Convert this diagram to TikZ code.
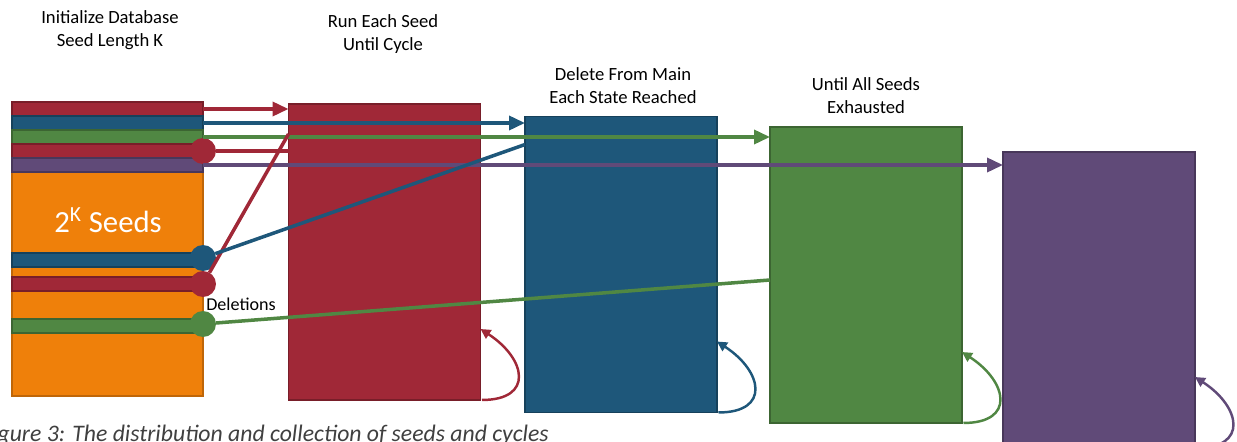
\documentclass[tikz,border=0pt]{standalone}
\usepackage{fontspec}
\setmainfont{Carlito}
\usepackage{color}
\usepackage{tikz}
\usetikzlibrary{arrows.meta}

\definecolor{cred}{RGB}{160,40,55}
\definecolor{cblue}{RGB}{30,87,122}
\definecolor{cgreen}{RGB}{80,135,67}
\definecolor{cpurple}{RGB}{96,74,120}
\definecolor{corange}{RGB}{239,128,10}

\begin{document}
\begin{tikzpicture}[x=0.02cm, y=-0.02cm,
    stagebox/.style={rectangle, inner sep=0pt, outer sep=0pt, line width=1.1pt,
        minimum width=3.84cm, minimum height=5.92cm},
    seedband/.style={rectangle, inner sep=0pt, outer sep=0pt, line width=1.1pt,
        minimum width=3.82cm, minimum height=0.28cm},
    seeddot/.style={circle, inner sep=0pt, outer sep=0pt, minimum size=0.52cm},
    flowline/.style={line width=2pt},
    flowtip/.style={-{Triangle[length=0.32cm, width=0.28cm]}},
    cycleline/.style={line width=1.4pt, -{Triangle[length=0.2cm, width=0.2cm]}},
    steplabel/.style={align=center, font=\fontsize{10.6}{13}\selectfont}]
    \useasboundingbox (0,0) rectangle (1237,442);

    % database of seeds
    \node[seedband, fill=corange, draw=corange!80!black, minimum height=4.48cm] (db) at (107.5,284) {};
    \foreach \n/\y/\c in {s1/109/cred, s2/123/cblue, s3/137/cgreen, s4/151/cred, s5/165/cpurple,
        d1/260/cblue, d2/284/cred, d3/326/cgreen}
        \node[seedband, fill=\c, draw=\c!75!black] (\n) at (107.5,\y) {};
    \node [white, font=\fontsize{17.5}{20}\selectfont] (seeds) at (108,220) {2\textsuperscript{K} Seeds};
    \node [black, font=\fontsize{10.3}{12}\selectfont] (dellbl) at (241,304) {Deletions};

    % stages
    \node[stagebox, fill=cred, draw=cred!75!black] (runbox) at (384.5,252) {};
    \node[stagebox, fill=cblue, draw=cblue!75!black] (cullbox) at (621,264.5) {};
    \node[stagebox, fill=cgreen, draw=cgreen!75!black] (donebox) at (866,275) {};
    \node[stagebox, fill=cpurple, draw=cpurple!75!black, minimum height=6.6cm] (endbox) at (1099,317) {};

    \node[steplabel] (initlbl) at (110,30) {Initialize Database\\Seed Length K};
    \node[steplabel] (runlbl) at (383,34) {Run Each Seed\\Until Cycle};
    \node[steplabel] (culllbl) at (623,86) {Delete From Main\\Each State Reached};
    \node[steplabel] (donelbl) at (866,96) {Until All Seeds\\Exhausted};

    % deletion points
    \node[seeddot, fill=cred] (dA) at (s4.east) {};
    \node[seeddot, fill=cblue] (dB) at (203,258) {};
    \node[seeddot, fill=cred] (dC) at (d2.east) {};
    \node[seeddot, fill=cgreen] (dD) at (203,324) {};

    % seeds out, deletions back
    \draw[flowline, cred, flowtip] (s1.east) -- (s1.east -| runbox.west);
    \draw[flowline, cblue, flowtip] (s2.east) -- (s2.east -| cullbox.west);
    \draw[flowline, cgreen, flowtip] (s3.east) -- (s3.east -| donebox.west);
    \draw[flowline, cred] (dA) -- (dA -| runbox.west);
    \draw[flowline, cpurple, flowtip] (s5.east) -- (s5.east -| endbox.west);
    \draw[flowline, cred] (dC) -- ([yshift=-0.6cm]runbox.north west);
    \draw[flowline, cblue] (dB) -- ([yshift=-0.56cm]cullbox.north west);
    \draw[flowline, cgreen] (dD) -- ([yshift=-0.1cm]donebox.west);

    % cycles
    \foreach \b/\c in {runbox/cred, cullbox/cblue, donebox/cgreen, endbox/cpurple}
        \draw[cycleline, \c] ([xshift=0.03cm, yshift=-5.92cm]\b.north east) .. controls +(52,0) and +(46,30) .. ([yshift=-4.5cm]\b.north east);

    \node[anchor=base east, text=black!75, font=\fontsize{13.5}{15}\itshape\selectfont] (caption) at (555,441)
        {Figure 3: The distribution and collection of seeds and cycles};
\end{tikzpicture}
\end{document}
